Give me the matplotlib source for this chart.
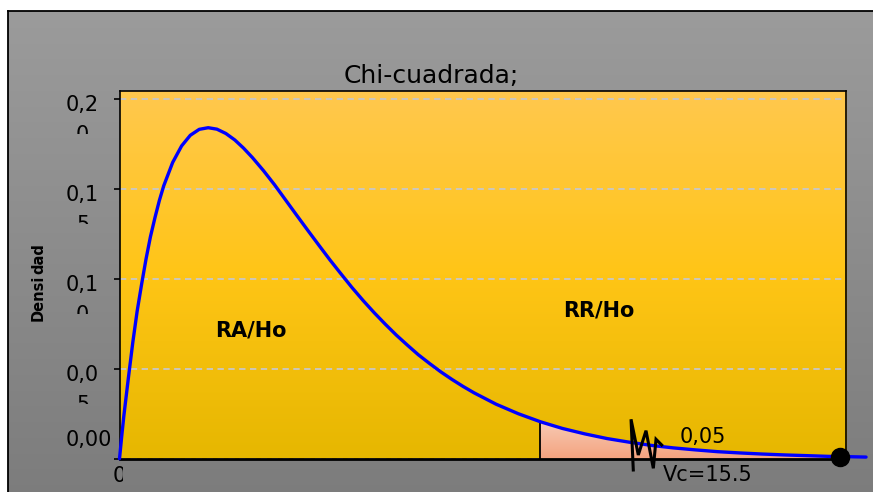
import numpy as np
import matplotlib
matplotlib.use("Agg")
import matplotlib.pyplot as plt
from matplotlib.colors import LinearSegmentedColormap
from matplotlib.patches import Polygon
from matplotlib.transforms import Bbox

# Chi-square density curve (x position, density)
chi_x = [0, 0.08, 0.16, 0.33, 0.49, 0.65, 0.82, 0.98, 1.14, 1.31, 1.47, 1.63,
         1.96, 2.29, 2.61, 2.94, 3.27, 3.59, 3.92, 4.25, 4.57, 4.90, 5.31,
         5.72, 6.12, 6.53, 6.94, 7.35, 7.76, 8.17, 8.57, 8.98, 9.39, 9.80,
         10.21, 10.62, 11.02, 11.43, 11.84, 12.25, 12.66, 13.07, 13.88, 14.70,
         15.52, 16.33, 17.15, 17.97, 18.78, 19.60, 20.42, 21.23, 22.05, 22.87,
         23.68, 24.50, 25.32, 26.13, 26.95, 27.52]
densidad = [0, 0.0122, 0.0238, 0.0452, 0.0646, 0.0819, 0.0974, 0.1111, 0.1233,
            0.1341, 0.1435, 0.1516, 0.1646, 0.1738, 0.1797, 0.1830, 0.1839,
            0.1831, 0.1807, 0.1771, 0.1726, 0.1673, 0.1600, 0.1521, 0.1438,
            0.1353, 0.1269, 0.1186, 0.1104, 0.1026, 0.0951, 0.0879, 0.0811,
            0.0747, 0.0686, 0.0630, 0.0577, 0.0529, 0.0483, 0.0441, 0.0402,
            0.0366, 0.0303, 0.0250, 0.0205, 0.0168, 0.0138, 0.0112, 0.0092,
            0.0074, 0.0060, 0.0049, 0.0039, 0.0032, 0.0026, 0.0021, 0.0017,
            0.0013, 0.0011, 0.0009]

vc = 15.5                 # critical value
alpha_label = "0,05"
end_point = (26.56, 0.0011)

ytick_vals = [0.00, 0.05, 0.10, 0.15, 0.20]
ytick_text = [("0,00", ""), ("0,0", "5"), ("0,1", "0"), ("0,1", "5"), ("0,2", "0")]
x_max = 26.77
y_max = 0.2043

W, H = 873, 492
fig = plt.figure(figsize=(W / 100, H / 100), dpi=100)
fig.patch.set_facecolor("white")

grad = np.linspace(0, 1, 256).reshape(-1, 1)

# grey chart backdrop with a thin black frame on the top and left
bg = fig.add_axes([8 / W, -0.02, 1 - 8 / W + 0.03, 1 - 11 / H + 0.02], zorder=0)
gray_cmap = LinearSegmentedColormap.from_list("gray_bg", ["#9b9b9b", "#7c7c7c"])
bg.imshow(grad, aspect="auto", cmap=gray_cmap, extent=[0, 1, 0, 1], origin="upper")
bg.set_xlim(0, 1)
bg.set_ylim(0, 1)
bg.set_xticks([])
bg.set_yticks([])
for side in ("right", "bottom"):
    bg.spines[side].set_visible(False)
for side in ("left", "top"):
    bg.spines[side].set_color("black")
    bg.spines[side].set_linewidth(1.3)

# plot area
ax = fig.add_axes([119.5 / W, (H - 458.7) / H, 726.2 / W, 367.7 / H], zorder=1)
yellow_cmap = LinearSegmentedColormap.from_list(
    "plot_bg", [(0, "#ffc84e"), (0.5, "#ffc516"), (1, "#e6b700")])
ax.imshow(grad, aspect="auto", cmap=yellow_cmap, extent=[0, x_max, 0, y_max],
          origin="upper", zorder=0)

# rejection region
f_vc = float(np.interp(vc, chi_x, densidad))
tail_x = [vc] + [x for x in chi_x if x > vc]
tail_y = [f_vc] + [y for x, y in zip(chi_x, densidad) if x > vc]
verts = [(vc, 0)] + list(zip(tail_x, tail_y)) + [(tail_x[-1], 0)]
tail_poly = Polygon(verts, closed=True, facecolor="none", edgecolor="none")
ax.add_patch(tail_poly)
pink_cmap = LinearSegmentedColormap.from_list("tail", ["#f8cbb5", "#f4a27e"])
tail_img = ax.imshow(grad, aspect="auto", cmap=pink_cmap,
                     extent=[vc, tail_x[-1], 0, f_vc], origin="upper", zorder=2)
tail_img.set_clip_path(tail_poly)
ax.plot([vc, vc], [0, f_vc], color="black", lw=1.3, zorder=3)

# density curve
ax.plot(chi_x, densidad, color="#0000ff", lw=2.4, zorder=4, clip_on=False,
        solid_joinstyle="round", solid_capstyle="round")
ax.plot([end_point[0]], [end_point[1]], "o", color="black", ms=13,
        clip_on=False, zorder=6)

ax.set_xlim(0, x_max)
ax.set_ylim(0, y_max)
ax.set_xticks([])
ax.set_yticks(ytick_vals)
ax.set_yticklabels([])
ax.tick_params(axis="y", direction="out", length=4.5, width=1.2, color="black")
ax.yaxis.grid(True, linestyle=(0, (3.5, 2.5)), color="#c8c8c8", lw=1.3)
ax.set_axisbelow(True)
for side in ("left", "top", "right"):
    ax.spines[side].set_color("black")
    ax.spines[side].set_linewidth(1.2)
ax.spines["bottom"].set_linewidth(2)
ax.spines["bottom"].set_color("black")

# break mark near the tail
zig_x = [0.7075, 0.7044, 0.7144, 0.7250, 0.7351, 0.7388, 0.7466]
zig_y = [-0.0307, 0.1072, 0.0101, 0.0762, -0.0261, 0.0528, 0.0373]
ax.plot(zig_x, zig_y, transform=ax.transAxes, color="black", lw=2.2,
        clip_on=False, zorder=7, solid_joinstyle="miter")

# region labels
ax.text(4.85, 0.0715, "RA/Ho", fontsize=15, fontweight="bold", ha="center",
        va="center", zorder=8)
ax.text(17.67, 0.0826, "RR/Ho", fontsize=15, fontweight="bold", ha="center",
        va="center", zorder=8)
ax.text(21.51, 0.0118, alpha_label, fontsize=15, ha="center", va="center", zorder=8)
ax.text(21.67, -0.0091, "Vc=" + f"{vc}", fontsize=15, ha="center", va="center",
        zorder=8, clip_on=False)

fig.text(431 / W, 1 - 76 / H, "Chi-cuadrada;", fontsize=18, ha="center", va="center")

# y tick labels, wrapped onto two lines with the second line cut off
fig.canvas.draw()
for v, (l1, l2) in zip(ytick_vals, ytick_text):
    tick_top = H - ax.transData.transform((0, v))[1]
    if l2:
        base1 = tick_top + 12.5
    else:
        base1 = tick_top - 12.7
    fig.text(66 / W, 1 - base1 / H, l1, fontsize=15, ha="left", va="baseline")
    if l2:
        base2 = base1 + 30
        glyph_top = base2 - 15
        t2 = fig.text(82.5 / W, 1 - base2 / H, l2, fontsize=15, ha="center",
                      va="baseline")
        t2.set_clip_box(Bbox.from_extents(0, H - (glyph_top + 8), W, H - (glyph_top - 5)))
        t2.set_clip_on(True)

# x tick label at the origin, cut at the right
x0 = ax.transData.transform((0, 0))[0]
t0 = fig.text(x0 / W, 1 - 482 / H, "0", fontsize=15, ha="center", va="baseline")
t0.set_clip_box(Bbox.from_extents(0, 0, 122.5, H))
t0.set_clip_on(True)

# axis title, split in two pieces
ylab_kw = dict(fontsize=10.5, fontweight="bold", rotation=90, rotation_mode="anchor",
               ha="left", va="baseline")
fig.text(43 / W, 1 - 321 / H, "Densi", **ylab_kw)
fig.text(43 / W, 1 - 274 / H, "dad", **ylab_kw)

fig.savefig("out.png", dpi=100)
